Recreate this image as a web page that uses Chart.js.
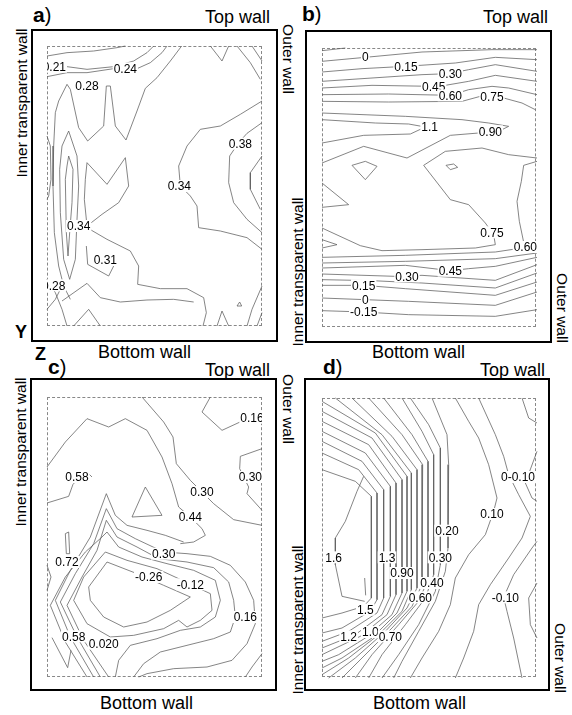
<!DOCTYPE html>
<html>
<head>
<meta charset="utf-8">
<script src="https://cdn.jsdelivr.net/npm/chart.js@4.4.1/dist/chart.umd.min.js"></script>
<style>
body { margin: 0; width: 572px; height: 715px; background: #fff; position: relative; overflow: hidden;
       font-family: Arial, "Liberation Sans", sans-serif; color: #000; }
.box { position: absolute; border: 2px solid #000; box-sizing: border-box; }
.dash { position: absolute; border: 1px dashed #888; box-sizing: border-box; }
.t { position: absolute; white-space: nowrap; line-height: 1; font-size: 18px; }
.r { position: absolute; white-space: nowrap; line-height: 1; font-size: 15.5px; transform: translate(-50%, -50%) rotate(-90deg); }
.r.cw { transform: translate(-50%, -50%) rotate(90deg); }
.p { position: absolute; white-space: nowrap; line-height: 1; font-size: 20px; }
.p b { font-weight: bold; font-size: 21px; }
canvas { position: absolute; }
</style>
</head>
<body>

<div class="box" style="left:31px;top:29px;width:247px;height:313px"></div>
<div class="box" style="left:305px;top:30px;width:247px;height:313px"></div>
<div class="box" style="left:30px;top:378px;width:247px;height:313px"></div>
<div class="box" style="left:304px;top:378px;width:246px;height:313px"></div>

<div class="dash" style="left:47px;top:46px;width:215px;height:280px"></div>
<div class="dash" style="left:322px;top:48px;width:214px;height:279px"></div>
<div class="dash" style="left:47px;top:397px;width:215px;height:280px"></div>
<div class="dash" style="left:322px;top:398px;width:214px;height:279px"></div>

<canvas id="chartA" width="227" height="292" style="left:41px;top:40px"></canvas>
<canvas id="chartB" width="227" height="292" style="left:316px;top:42px"></canvas>
<canvas id="chartC" width="227" height="292" style="left:41px;top:391px"></canvas>
<canvas id="chartD" width="227" height="292" style="left:316px;top:392px"></canvas>

<div class="p" style="left:33px;top:4px"><b>a</b>)</div>
<div class="p" style="left:302px;top:3px"><b>b</b>)</div>
<div class="p" style="left:48px;top:356px"><b>c</b>)</div>
<div class="p" style="left:323px;top:356px"><b>d</b>)</div>

<div class="t" style="left:205px;top:8px">Top wall</div>
<div class="t" style="left:483px;top:8px">Top wall</div>
<div class="t" style="left:205px;top:361px">Top wall</div>
<div class="t" style="left:480px;top:361px">Top wall</div>

<div class="t" style="left:98px;top:343px">Bottom wall</div>
<div class="t" style="left:372px;top:343px">Bottom wall</div>
<div class="t" style="left:100px;top:694px">Bottom wall</div>
<div class="t" style="left:373px;top:694px">Bottom wall</div>

<div class="r" style="left:22px;top:103px">Inner transparent wall</div>
<div class="r" style="left:298px;top:272px">Inner transparent wall</div>
<div class="r" style="left:21px;top:452px">Inner transparent wall</div>
<div class="r" style="left:298px;top:620px">Inner transparent wall</div>

<div class="r cw" style="left:288px;top:59px">Outer wall</div>
<div class="r cw" style="left:562px;top:308px">Outer wall</div>
<div class="r cw" style="left:288px;top:409px">Outer wall</div>
<div class="r cw" style="left:560px;top:658px">Outer wall</div>

<div class="t" style="left:15px;top:323px;font-weight:bold">Y</div>
<div class="t" style="left:35px;top:345px;font-weight:bold">Z</div>

<script>
// domain units: 645 across the dashed frame, 840 down (y measured from the top wall)

// ---- panel a ----
var linesA = [
    [0,30, 60,20, 140,15, 210,5, 235,0],
    [0,62, 60,62, 120,70, 200,62, 260,45, 300,20, 320,0],
    [0,92, 60,80, 120,80, 200,68, 270,68, 310,50, 345,20, 360,0],
    [404,0, 370,45, 330,95, 295,127, 270,195, 237,282, 205,240, 190,120, 178,120, 170,240, 122,285, 95,245, 70,130, 60,115, 35,165, 25,200, 20,300, 18,420, 22,560, 35,660, 50,720, 70,760],
    [65,330, 78,370, 75,470, 68,560, 63,630, 58,560, 55,400, 60,360, 65,330],
    [65,255, 90,330, 95,420, 90,520, 85,640, 68,700, 50,640, 40,500, 38,370, 45,300, 65,255],
    [120,350, 180,415, 235,335, 245,420, 215,470, 165,505, 120,540, 112,460, 115,400, 120,350],
    [120,545, 180,580, 250,615, 275,660, 272,715, 340,728, 420,728, 470,755, 478,800, 468,840],
    [118,600, 122,655, 185,690, 200,660],
    [45,765, 120,712, 160,755, 220,768, 300,762, 380,760, 440,768],
    [80,840, 125,790, 160,840],
    [510,840, 525,795, 545,840],
    [570,780, 578,768, 584,780, 570,780],
    [645,165, 580,205, 520,240, 460,250, 420,300, 395,360, 400,420, 430,450, 450,480, 455,545, 520,555, 600,575, 645,610],
    [645,230, 600,262, 575,290, 548,330, 545,410, 560,470, 600,520, 645,560],
    [645,330, 610,380, 610,430, 640,490],
    [490,0, 525,45, 545,0],
    [570,0, 610,50, 640,100],
    [615,0, 645,45],
    [0,270, 10,300, 12,400, 5,450, 0,460],
    [0,700, 25,740, 45,790, 60,840],
    [0,790, 25,760, 40,730],
    [600,840, 615,790, 645,720],
    [630,840, 645,800]
];
var labelsA = [
    {x: 22, y: 62, t: "0.21"}, {x: 235, y: 67, t: "0.24"}, {x: 120, y: 120, t: "0.28"},
    {x: 580, y: 293, t: "0.38"}, {x: 397, y: 420, t: "0.34"}, {x: 95, y: 540, t: "0.34"},
    {x: 175, y: 640, t: "0.31"}, {x: 20, y: 718, t: "0.28"}
];

// ---- panel b ----
var linesB = [
    [0,8, 70,0],
    [0,40, 130,28, 300,12, 510,5, 645,5],
    [0,72, 120,62, 250,55, 400,45, 520,28, 645,35],
    [0,100, 150,90, 300,80, 380,77, 440,65, 520,50, 645,70],
    [0,120, 150,112, 330,115, 370,112, 440,100, 520,82, 645,100],
    [0,140, 200,138, 385,142, 440,125, 510,115, 560,120, 645,140],
    [0,160, 200,162, 420,160, 475,145, 545,150, 600,165, 640,185],
    [0,195, 250,205, 420,215, 500,225, 560,235, 540,245, 470,255, 385,262, 255,330, 125,295, 0,345],
    [0,215, 160,225, 260,228, 310,237, 265,258, 125,262, 0,285],
    [645,330, 560,320, 480,300, 370,310, 305,352, 385,455, 440,470, 490,525, 515,560, 520,590, 460,600, 300,605, 180,608, 115,593, 0,540],
    [0,405, 80,470, 0,478],
    [0,575, 45,590, 0,600],
    [90,352, 130,340, 165,355, 130,395, 90,352],
    [372,352, 395,348, 407,358, 385,365, 372,352],
    [645,340, 605,352, 598,400, 585,460, 592,520, 608,597, 645,600],
    [0,628, 250,622, 520,612, 600,600],
    [0,645, 250,640, 520,632, 645,615],
    [0,660, 250,652, 385,668, 440,662, 520,655, 645,628],
    [0,678, 220,685, 300,682, 520,697, 645,650],
    [0,695, 150,698, 300,705, 520,720, 645,675],
    [0,712, 125,712, 250,722, 520,742, 645,702],
    [0,750, 130,755, 260,760, 520,772, 645,732],
    [0,788, 125,792, 260,800, 520,805, 645,785]
];
var labelsB = [
    {x: 130, y: 25, t: "0"}, {x: 252, y: 55, t: "0.15"}, {x: 385, y: 77, t: "0.30"},
    {x: 335, y: 115, t: "0.45"}, {x: 385, y: 142, t: "0.60"}, {x: 510, y: 145, t: "0.75"},
    {x: 323, y: 237, t: "1.1"}, {x: 505, y: 250, t: "0.90"}, {x: 510, y: 553, t: "0.75"},
    {x: 610, y: 597, t: "0.60"}, {x: 385, y: 668, t: "0.45"}, {x: 255, y: 685, t: "0.30"},
    {x: 125, y: 712, t: "0.15"}, {x: 130, y: 755, t: "0"}, {x: 125, y: 792, t: "-0.15"}
];

// ---- panel c ----
var linesC = [
    [0,210, 55,135, 120,65, 185,90, 235,65, 300,100, 345,180, 375,260, 395,330, 430,360, 465,395, 475,415, 440,435, 400,440],
    [285,0, 350,75, 378,120, 388,200, 430,250, 465,285, 500,320, 560,368, 645,385],
    [490,0, 465,45, 525,100, 590,70, 645,60],
    [645,155, 580,178, 578,215, 590,240, 605,270, 600,290, 645,340],
    [0,318, 65,298, 78,262, 100,240, 125,230, 135,240],
    [295,270, 345,355, 255,360, 295,270],
    [55,410, 65,405, 68,470, 58,470, 55,410],
    [140,840, 70,720, 25,610, 70,520, 130,420, 178,290, 205,355, 240,385, 300,400, 355,415, 410,435],
    [160,840, 90,720, 40,615, 85,530, 140,440, 178,335, 210,395, 265,425, 350,465, 420,470, 490,478, 550,505, 595,555, 620,610, 625,680, 600,740, 555,790, 480,810, 380,815, 300,830, 275,840],
    [185,840, 110,730, 60,625, 105,540, 150,460, 178,370, 210,420, 270,450, 335,485, 420,495, 500,512, 545,555, 560,610, 565,660, 550,705, 500,725, 420,745, 340,765, 290,800, 260,840],
    [120,840, 55,735, 10,625, 55,540, 115,465, 165,420, 180,405, 215,450, 285,480, 360,500, 440,520, 505,550, 520,610, 505,660, 460,690, 400,700, 330,725, 250,745, 215,790, 205,840],
    [175,465, 240,490, 330,515, 395,545, 430,562, 490,590, 495,640, 460,670, 420,690, 395,670, 350,695, 260,715, 190,720, 120,680, 80,610, 110,540, 175,465],
    [180,495, 270,530, 350,565, 430,600, 370,640, 300,675, 230,690, 170,660, 130,610, 125,570, 180,495],
    [0,505, 12,540, 0,580],
    [15,722, 62,812, 72,760],
    [645,770, 615,810, 595,840]
];
var labelsC = [
    {x: 615, y: 62, t: "0.16"}, {x: 90, y: 240, t: "0.58"}, {x: 610, y: 240, t: "0.30"},
    {x: 465, y: 285, t: "0.30"}, {x: 430, y: 360, t: "0.44"}, {x: 60, y: 495, t: "0.72"},
    {x: 350, y: 470, t: "0.30"}, {x: 305, y: 540, t: "-0.26"}, {x: 430, y: 562, t: "-0.12"},
    {x: 595, y: 660, t: "0.16"}, {x: 80, y: 718, t: "0.58"}, {x: 170, y: 740, t: "0.020"}
];

// ---- panel d ----
var linesD = [
    [330,0, 375,110, 380,200, 378,450, 370,520, 340,610, 290,700, 240,790, 215,840],
    [265,0, 320,80, 355,150, 355,500, 340,580, 290,680, 230,770, 180,840],
    [240,0, 300,100, 335,170, 335,530, 310,600, 250,680, 180,770, 140,840],
    [185,0, 270,110, 318,190, 318,545, 290,610, 230,680, 150,770, 100,840],
    [140,0, 240,110, 302,200, 300,560, 270,625, 210,690, 120,780, 60,840],
    [90,0, 210,115, 285,215, 285,570, 255,630, 190,700, 100,780, 20,840],
    [40,0, 180,110, 268,225, 268,575, 240,640, 170,710, 80,780, 0,830],
    [0,10, 160,105, 255,235, 255,580, 225,645, 150,720, 60,780, 0,810],
    [0,40, 150,120, 240,245, 240,585, 210,650, 130,720, 50,770, 0,790],
    [0,70, 140,140, 222,255, 222,590, 195,650, 115,715, 0,770],
    [0,100, 130,165, 205,265, 205,595, 180,650, 100,710, 0,750],
    [0,130, 120,190, 185,275, 185,600, 165,645, 80,700, 0,730],
    [0,165, 110,215, 165,285, 165,605, 145,640, 60,690, 0,705],
    [0,215, 100,250, 148,295, 148,600, 125,625, 60,645, 0,660],
    [125,235, 105,280, 70,370, 40,420, 40,500, 60,595, 128,610],
    [128,540, 131,592],
    [400,0, 440,70, 470,120, 500,200, 525,300, 515,340, 490,410, 440,470, 400,540, 385,620, 350,700, 300,780, 265,840],
    [470,0, 520,110, 545,175, 560,230, 590,290, 625,355, 600,420, 560,480, 505,560, 470,620, 455,700, 425,780, 400,840],
    [600,0, 620,60, 645,75],
    [645,160, 610,255, 630,300, 645,310],
    [600,840, 575,720, 555,640, 545,598, 575,530, 630,450, 645,430],
    [645,555, 620,600, 625,680, 645,720]
];
var labelsD = [
    {x: 35, y: 478, t: "1.6"}, {x: 130, y: 635, t: "1.5"}, {x: 195, y: 478, t: "1.3"},
    {x: 80, y: 715, t: "1.2"}, {x: 145, y: 702, t: "1.0"}, {x: 205, y: 715, t: "0.70"},
    {x: 240, y: 525, t: "0.90"}, {x: 295, y: 598, t: "0.60"}, {x: 330, y: 555, t: "0.40"},
    {x: 355, y: 478, t: "0.30"}, {x: 375, y: 398, t: "0.20"}, {x: 510, y: 348, t: "0.10"},
    {x: 588, y: 237, t: "0-0.10"}, {x: 550, y: 598, t: "-0.10"}
];

function toPoints(flat) {
    var pts = [];
    for (var i = 0; i < flat.length; i += 2) {
        pts.push({x: flat[i], y: flat[i + 1]});
    }
    return pts;
}

// contour value labels, white box behind so the line looks broken
function labelPlugin(labels) {
    return {
        id: 'contourLabels',
        afterDatasetsDraw: function (chart) {
            var ctx = chart.ctx;
            var area = chart.chartArea;
            var xs = chart.scales.x, ys = chart.scales.y;
            ctx.save();
            ctx.beginPath();
            ctx.rect(area.left, area.top, area.right - area.left, area.bottom - area.top);
            ctx.clip();
            ctx.font = '12px Arial, "Liberation Sans", sans-serif';
            ctx.textAlign = 'center';
            ctx.textBaseline = 'middle';
            labels.forEach(function (l) {
                var px = xs.getPixelForValue(l.x);
                var py = ys.getPixelForValue(l.y);
                var w = ctx.measureText(l.t).width;
                ctx.fillStyle = '#fff';
                ctx.fillRect(px - w / 2 - 1, py - 6, w + 2, 12);
                ctx.fillStyle = '#000';
                ctx.fillText(l.t, px, py + 1);
            });
            ctx.restore();
        }
    };
}

function makePanel(id, lines, labels) {
    var ctx = document.getElementById(id);
    return new Chart(ctx, {
        type: 'scatter',
        data: {
            datasets: lines.map(function (flat) {
                return {
                    data: toPoints(flat),
                    showLine: true,
                    borderColor: '#5c5c5c',
                    borderWidth: 0.75,
                    pointRadius: 0,
                    fill: false,
                    tension: 0,
                    clip: false
                };
            })
        },
        options: {
            responsive: false,
            animation: false,
            events: [],
            layout: { padding: 6 },
            scales: {
                x: { type: 'linear', min: 0, max: 645, display: false },
                y: { type: 'linear', min: 0, max: 840, reverse: true, display: false }
            },
            plugins: {
                legend: { display: false },
                tooltip: { enabled: false }
            }
        },
        plugins: [labelPlugin(labels)]
    });
}

makePanel("chartA", linesA, labelsA);
makePanel("chartB", linesB, labelsB);
makePanel("chartC", linesC, labelsC);
makePanel("chartD", linesD, labelsD);
</script>
</body>
</html>
